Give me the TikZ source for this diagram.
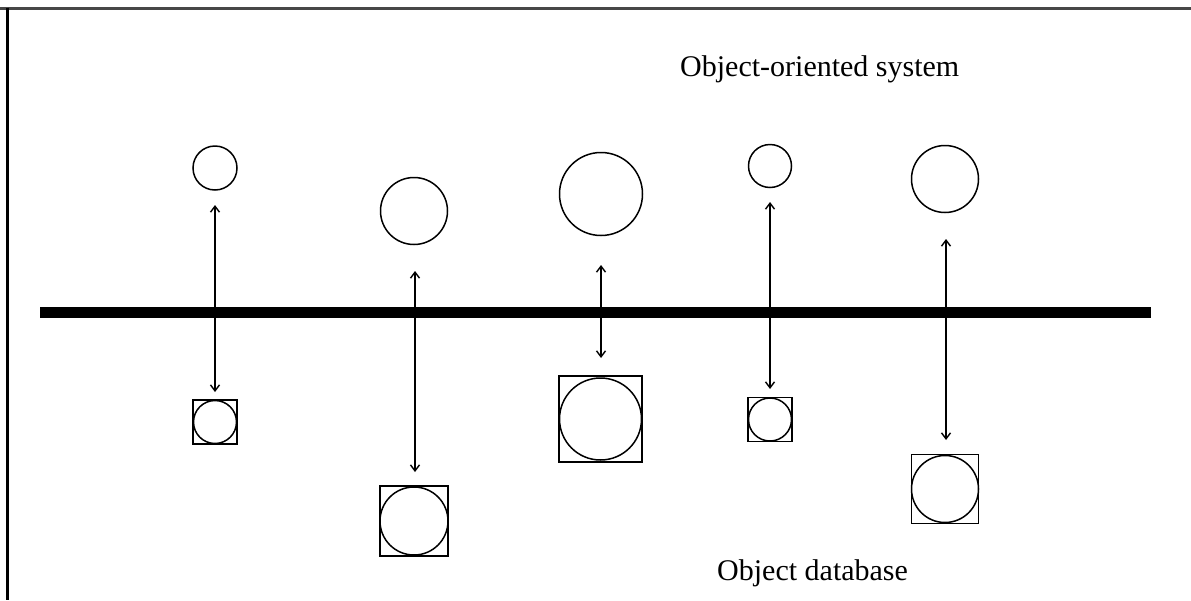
\documentclass[tikz,border=0pt]{standalone}
\usepackage{fontspec}
\setmainfont{Liberation Serif}
\usetikzlibrary{arrows.meta}
\begin{document}
\begin{tikzpicture}[x=1pt,y=-1pt,
  obj/.style={circle,draw,line width=1.5pt,inner sep=0pt},
  store/.style={rectangle,draw,line width=1.5pt,inner sep=0pt},
  link/.style={{Straight Barb[length=6pt,width=9pt]}-{Straight Barb[length=6pt,width=9pt]},line width=1.4pt},
  label/.style={anchor=base west,inner sep=0pt,font=\fontsize{30}{36}\selectfont}]
\useasboundingbox (0,0) rectangle (1191,600);
% frame
\draw[line width=2.2pt,black!72] (0,8.5) -- (1191,8.5);
\draw[line width=2.2pt] (7.5,7.5) -- (7.5,600);
% boundary bar
\coordinate (barL) at (40,312.5);
\coordinate (barR) at (1151,312.5);
\draw[line width=10.5pt] (barL) -- (barR);
% labels
\node[label] (sys) at (680,76.5) {Object-oriented system};
\node[label] (db) at (717,580) {Object database};
% objects in the system
\node[obj,minimum size=44pt] (c1) at (215,168) {};
\node[obj,minimum size=67pt] (c2) at (414,211) {};
\node[obj,minimum size=83pt] (c3) at (601,194) {};
\node[obj,minimum size=43pt] (c4) at (770,166) {};
\node[obj,minimum size=67pt] (c5) at (945,179) {};
% stored objects
\node[store,minimum width=44pt,minimum height=44pt] (s1) at (215,422) {};
\node[obj,minimum size=43pt] (d1) at (s1) {};
\node[store,minimum width=68pt,minimum height=70pt] (s2) at (414,521) {};
\node[obj,minimum size=68pt] (d2) at (s2) {};
\node[store,minimum width=83pt,minimum height=86pt] (s3) at (600.5,419) {};
\node[obj,minimum size=82pt] (d3) at (s3) {};
\node[store,minimum width=44pt,minimum height=44pt] (s4) at (770,419.5) {};
\node[obj,minimum size=43pt] (d4) at (s4) {};
\node[store,minimum width=67pt,minimum height=69pt] (s5) at (945,489) {};
\node[obj,minimum size=67pt] (d5) at (s5) {};
% arrow ends
\coordinate (a1t) at (215,205);   \coordinate (a1b) at (215,392);
\coordinate (a2t) at (415,271);   \coordinate (a2b) at (415,472);
\coordinate (a3t) at (601,265);   \coordinate (a3b) at (601,358);
\coordinate (a4t) at (770,202);   \coordinate (a4b) at (770,389);
\coordinate (a5t) at (946,239);   \coordinate (a5b) at (946,440);
\draw[link] (a1t) -- (a1b);
\draw[link] (a2t) -- (a2b);
\draw[link] (a3t) -- (a3b);
\draw[link] (a4t) -- (a4b);
\draw[link] (a5t) -- (a5b);
\end{tikzpicture}
\end{document}
